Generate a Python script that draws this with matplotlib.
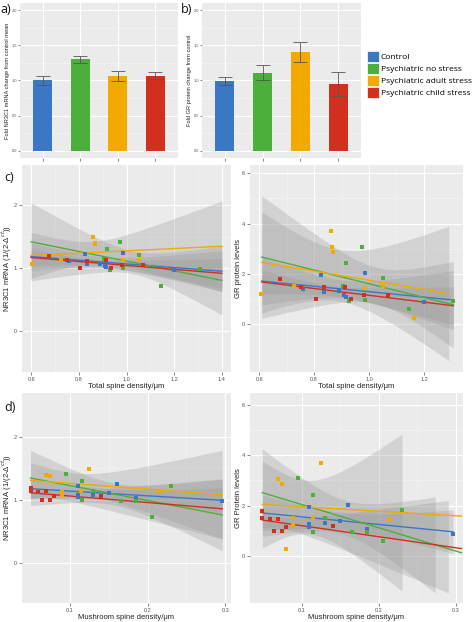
import numpy as np
import matplotlib.pyplot as plt
from matplotlib.patches import Patch

groups = ['Control', 'Psychiatric no stress', 'Psychiatric adult stress', 'Psychiatric child stress']
colors = ['#3a78c3', '#4caf3c', '#f2a900', '#d22f1e']

# a) / b) fold change bars
mrna_fold = [1.00, 1.30, 1.06, 1.07]
mrna_fold_err = [0.066, 0.047, 0.07, 0.045]
gr_fold = [0.99, 1.11, 1.40, 0.95]
gr_fold_err = [0.055, 0.107, 0.144, 0.17]

# per subject values, same order in each list (None = no mRNA value)
total_density = {
    'Control': [0.761, 0.825, 0.835, 0.890, 0.909, 0.916, 0.985, 1.199],
    'Psychiatric no stress': [0.905, 0.918, 0.929, 0.973, 0.984, 1.052, 1.146, 1.307],
    'Psychiatric adult stress': [0.606, 0.727, 0.860, 0.866, 0.870, 0.984, 1.052, 1.165],
    'Psychiatric child stress': [0.677, 0.751, 0.806, 0.835, 0.914, 0.935, 0.981, 1.069],
}
mushroom_density = {
    'Control': [0.150, 0.110, 0.110, 0.130, 0.110, 0.185, 0.160, 0.296],
    'Psychiatric no stress': [0.130, 0.115, 0.165, 0.095, 0.115, 0.230, 0.205, 0.185],
    'Psychiatric adult stress': [0.089, 0.089, 0.125, 0.069, 0.074, 0.215, 0.114, 0.079],
    'Psychiatric child stress': [0.049, 0.049, 0.064, 0.059, 0.069, 0.074, 0.079, 0.140],
}
mrna = {
    'Control': [1.11, 1.22, 1.07, 1.07, 1.04, 1.02, 1.24, 0.97],
    'Psychiatric no stress': [1.14, 1.30, 0.97, 1.41, 1.00, 1.21, 0.72, 0.98],
    'Psychiatric adult stress': [1.07, 1.14, 1.49, 1.39, 1.38, 1.13, 1.13, None],
    'Psychiatric child stress': [1.19, 1.13, 1.00, 1.12, 1.13, 1.00, 1.05, 1.05],
}
gr = {
    'Control': [1.38, 1.94, 1.27, 1.30, 1.14, 1.08, 2.04, 0.88],
    'Psychiatric no stress': [1.50, 2.42, 0.93, 3.08, 0.96, 1.83, 0.59, 0.93],
    'Psychiatric adult stress': [1.21, 1.50, 3.69, 3.05, 2.87, 1.45, 1.51, 0.25],
    'Psychiatric child stress': [1.78, 1.49, 1.00, 1.47, 1.47, 1.00, 1.16, 1.17],
}

T975 = {5: 2.571, 6: 2.447}
BG = '#ebebeb'
FONT = 'Liberation Sans'

W, H = 474, 622
fig = plt.figure(figsize=(W / 100, H / 100), dpi=100)


def px_axes(x0, y0, x1, y1):
    ax = fig.add_axes([x0 / W, 1 - y1 / H, (x1 - x0) / W, (y1 - y0) / H])
    ax._px = (x0, x1)
    return ax


def set_ylabel_px(ax, text, size, right_px):
    # right edge of the rotated label sits at right_px (figure pixels)
    x0, x1 = ax._px
    ax.set_ylabel(text, fontsize=size, family=FONT, color='#222222')
    ax.yaxis.set_label_coords((right_px - x0) / (x1 - x0), 0.5)


def gg_style(ax):
    ax.set_facecolor(BG)
    for s in ax.spines.values():
        s.set_visible(False)
    ax.grid(True, which='major', color='white', lw=0.8)
    ax.grid(True, which='minor', color='#f7f7f7', lw=0.4)
    ax.set_axisbelow(True)
    ax.tick_params(which='major', length=2, width=0.5, color='#555555',
                   labelsize=4, labelcolor='#555555', pad=1.5)
    ax.tick_params(which='minor', length=0)
    for lab in ax.get_xticklabels() + ax.get_yticklabels():
        lab.set_fontfamily(FONT)


def bar_panel(ax, vals, errs, ylabel, label_px):
    pos = np.arange(1, 5)
    ax.bar(pos, vals, width=0.5, color=colors, zorder=2)
    ax.errorbar(pos, vals, yerr=errs, fmt='none', ecolor='#555555',
                elinewidth=0.6, capsize=5, capthick=0.6, zorder=3)
    ax.set_xlim(0.4, 4.6)
    ax.set_ylim(-0.1, 2.1)
    ax.set_xticks(pos)
    ax.set_xticklabels([''] * 4)
    ax.set_yticks([0, 0.5, 1.0, 1.5, 2.0])
    ax.set_yticklabels(['0.0', '0.5', '1.0', '1.5', '2.0'])
    ax.set_yticks([0.25, 0.75, 1.25, 1.75], minor=True)
    gg_style(ax)
    ax.tick_params(axis='y', labelsize=2.8, length=1.5, pad=0.6)
    set_ylabel_px(ax, ylabel, 4.1, label_px)


def lm_band(x, y, lo, hi):
    x = np.asarray(x, float)
    y = np.asarray(y, float)
    n = len(x)
    b, a = np.polyfit(x, y, 1)
    xs = np.linspace(lo, hi, 100)
    fit = a + b * xs
    s = np.sqrt(np.sum((y - (a + b * x)) ** 2) / (n - 2))
    sxx = np.sum((x - x.mean()) ** 2)
    se = s * np.sqrt(1 / n + (xs - x.mean()) ** 2 / sxx)
    return xs, fit, fit - T975[n - 2] * se, fit + T975[n - 2] * se


def scatter_panel(ax, xdict, ydict, ranges, xlim, ylim, xticks, yticks, xlabel, ylabel,
                  line_hi=None):
    line_hi = line_hi or {}
    for g, c in zip(groups, colors):
        pts = [(a, b) for a, b in zip(xdict[g], ydict[g]) if b is not None]
        x = [p[0] for p in pts]
        y = [p[1] for p in pts]
        lo, hi = ranges.get(g, ranges['all'])
        xs, fit, low, up = lm_band(x, y, lo, hi)
        ax.fill_between(xs, low, up, color='#999999', alpha=0.3, lw=0, zorder=1)
        lx, lfit, _, _ = lm_band(x, y, lo, line_hi.get(g, hi))
        ax.plot(lx, lfit, color=c, lw=1.0, zorder=3)
        ax.scatter(x, y, marker='s', s=10, color=c, lw=0, zorder=4)
    ax.set_xlim(*xlim)
    ax.set_ylim(*ylim)
    ax.set_xticks(xticks)
    ax.set_yticks(yticks)
    ax.set_xticks((np.array(xticks[:-1]) + np.array(xticks[1:])) / 2, minor=True)
    ax.set_yticks((np.array(yticks[:-1]) + np.array(yticks[1:])) / 2, minor=True)
    gg_style(ax)
    ax.set_xlabel(xlabel, fontsize=5.5, family=FONT, color='#222222', labelpad=1)
    set_ylabel_px(ax, ylabel, 5.5, ax._px[0] - 8)


# a) and b)
ax_a = px_axes(20, 3, 178, 158)
bar_panel(ax_a, mrna_fold, mrna_fold_err, 'Fold NR3C1 mRNA change from control mean', 10)
ax_b = px_axes(202, 3, 361, 158)
bar_panel(ax_b, gr_fold, gr_fold_err, 'Fold GR protein change from control', 192)

handles = [Patch(facecolor=c, edgecolor='white', lw=0.5) for c in colors]
fig.legend(handles, groups, loc='upper left', bbox_to_anchor=(367 / W, 1 - 51 / H),
           frameon=False, prop={'family': 'Open Sans', 'size': 6.1},
           handlelength=1.4, handleheight=1.6, handletextpad=0.25,
           labelspacing=0.12, borderaxespad=0, borderpad=0)

# c)
ax_c1 = px_axes(22, 165, 231, 372)
scatter_panel(ax_c1, total_density, mrna, {'all': (0.6, 1.4)},
              (0.562, 1.438), (-0.64, 2.63), [0.6, 0.8, 1.0, 1.2, 1.4], [0, 1, 2],
              'Total spine density/\u03bcm', 'NR3C1 mRNA (1/(2-\u0394$^{ct}$))')
ax_c2 = px_axes(250, 165, 463, 372)
scatter_panel(ax_c2, total_density, gr,
              {'all': (0.61, 1.307), 'Psychiatric adult stress': (0.61, 1.29)},
              (0.567, 1.342), (-1.91, 6.33), [0.6, 0.8, 1.0, 1.2], [0, 2, 4, 6],
              'Total spine density/\u03bcm', 'GR protein levels')

# d)
ax_d1 = px_axes(22, 393, 231, 603)
scatter_panel(ax_d1, mushroom_density, mrna, {'all': (0.049, 0.296)},
              (0.038, 0.3074), (-0.64, 2.69), [0.1, 0.2, 0.3], [0, 1, 2],
              'Mushroom spine density/\u03bcm', 'NR3C1 mRNA (1/(2-\u0394$^{ct}$))')
ax_d2 = px_axes(250, 393, 463, 603)
scatter_panel(ax_d2, mushroom_density, gr,
              {'all': (0.049, 0.296), 'Psychiatric no stress': (0.049, 0.273),
               'Psychiatric adult stress': (0.049, 0.23), 'Psychiatric child stress': (0.049, 0.29)},
              (0.033, 0.309), (-1.88, 6.48), [0.1, 0.2, 0.3], [0, 2, 4, 6],
              'Mushroom spine density/\u03bcm', 'GR Protein levels',
              line_hi={'Psychiatric no stress': 0.307, 'Psychiatric adult stress': 0.307,
                       'Psychiatric child stress': 0.307})

for lab, (x, y) in {'a)': (0, 13), 'b)': (181, 13), 'c)': (4, 181), 'd)': (4, 411)}.items():
    fig.text(x / W, 1 - y / H, lab, fontsize=9, family='Open Sans', color='#111111')

fig.savefig('out.png', dpi=100)
